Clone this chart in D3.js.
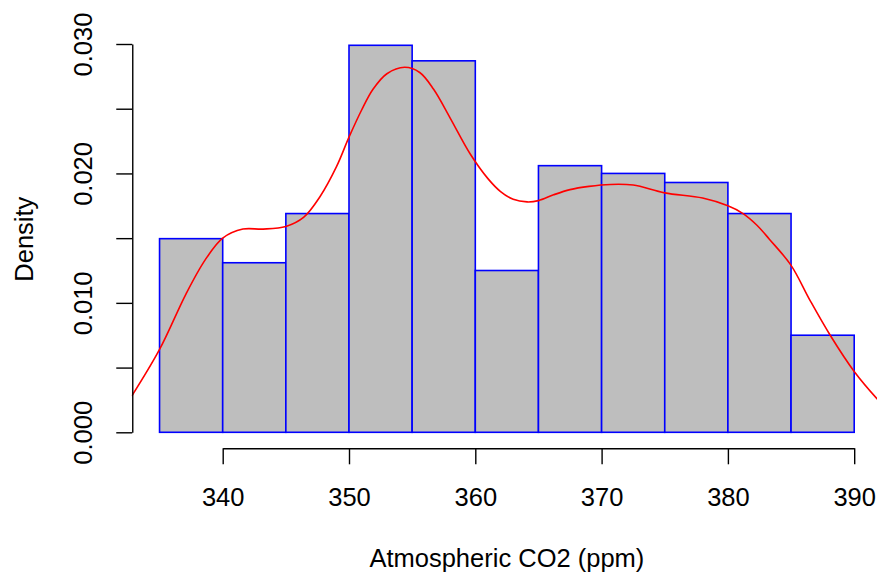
<!DOCTYPE html>
<html>
<head>
<meta charset="utf-8">
<script src="https://cdn.jsdelivr.net/npm/d3@7"></script>
<style>
  html, body { margin: 0; padding: 0; background: #ffffff; }
  svg { display: block; }
  text { font-family: "Liberation Sans", Arial, Helvetica, sans-serif; }
</style>
</head>
<body>
<svg id="chart" width="877" height="574"></svg>
<script>
// ---- data ----
const binStarts = [335, 340, 345, 350, 355, 360, 365, 370, 375, 380, 385];
const binWidth = 5;
const densities = [0.01496, 0.0131, 0.0169, 0.0299, 0.0287, 0.0125, 0.0206, 0.0200, 0.0193, 0.0169, 0.0075];

const kdeX = [332.8, 335.0, 337.1, 338.6, 340.0, 341.6, 343.2, 345.0, 346.4, 347.7, 349.0, 350.0, 351.0, 351.9, 353.0, 354.4, 355.6, 356.7, 358.0, 359.6, 361.0, 362.0, 363.0, 364.1, 365.0, 366.2, 367.5, 369.0, 370.7, 372.5, 375.0, 378.0, 380.0, 381.2, 382.3, 383.3, 385.0, 386.5, 388.1, 390.0, 391.8, 392.2];
const kdeY = [0.0028, 0.0064, 0.0107, 0.0133, 0.0150, 0.0157, 0.0157, 0.0159, 0.0166, 0.0182, 0.0205, 0.0228, 0.0249, 0.0265, 0.0277, 0.0282, 0.0278, 0.0265, 0.0243, 0.0215, 0.0196, 0.0186, 0.0180, 0.0178, 0.0179, 0.01835, 0.01875, 0.0190, 0.01915, 0.0191, 0.0185, 0.0181, 0.0175, 0.0169, 0.0160, 0.0149, 0.0129, 0.0102, 0.0075, 0.0047, 0.0026, 0.0022];

const xTicks = [340, 350, 360, 370, 380, 390];
const yTicks = [0, 0.005, 0.010, 0.015, 0.020, 0.025, 0.030];
const yLabelTicks = [0, 0.010, 0.020, 0.030];

const xTitle = "Atmospheric CO2 (ppm)";
const yTitle = "Density";

// ---- layout ----
const svg = d3.select("#chart");
const fontSize = 25.5;

const x = d3.scaleLinear().domain([340, 390]).range([222.7, 854.2]);
const y = d3.scaleLinear().domain([0, 0.03]).range([432.3, 44]);

const plotLeft = x(332.8), plotRight = x(392.2), plotTop = 30, plotBottom = 448.3;

svg.append("clipPath").attr("id", "plotclip")
  .append("rect")
  .attr("x", plotLeft).attr("y", plotTop)
  .attr("width", plotRight - plotLeft).attr("height", plotBottom - plotTop);

const plot = svg.append("g").attr("clip-path", "url(#plotclip)");

// histogram bars
plot.selectAll("rect.bar")
  .data(binStarts.map((b, i) => ({ x0: b, x1: b + binWidth, d: densities[i] })))
  .join("rect")
  .attr("class", "bar")
  .attr("x", d => x(d.x0))
  .attr("width", d => x(d.x1) - x(d.x0))
  .attr("y", d => y(d.d))
  .attr("height", d => y(0) - y(d.d))
  .attr("fill", "#bebebe")
  .attr("stroke", "#0000ff")
  .attr("stroke-width", 1.6);

// density curve
const line = d3.line()
  .x(d => x(d[0]))
  .y(d => y(d[1]))
  .curve(d3.curveCatmullRom.alpha(0.5));

plot.append("path")
  .datum(kdeX.map((v, i) => [v, kdeY[i]]))
  .attr("d", line)
  .attr("fill", "none")
  .attr("stroke", "#ff0000")
  .attr("stroke-width", 1.6);

// x axis
const xAxis = svg.append("g")
  .attr("transform", `translate(0,${plotBottom})`)
  .call(d3.axisBottom(x).tickValues(xTicks).tickSize(16).tickSizeOuter(0).tickFormat(d3.format("d")));
xAxis.select(".domain").attr("stroke", "#000").attr("stroke-width", 1.4);
xAxis.selectAll(".tick line").attr("stroke", "#000").attr("stroke-width", 1.4);
xAxis.selectAll(".tick text")
  .attr("y", 57.7).attr("dy", null)
  .attr("fill", "#000")
  .style("font-size", fontSize + "px")
  .style("font-family", "'Liberation Sans', Arial, Helvetica, sans-serif");

// y axis
const yAxis = svg.append("g")
  .attr("transform", `translate(${plotLeft + 0.5},0)`)
  .call(d3.axisLeft(y).tickValues(yTicks).tickSize(16).tickSizeOuter(0)
    .tickFormat(d => yLabelTicks.some(t => Math.abs(t - d) < 1e-9) ? d3.format(".3f")(d) : ""));
yAxis.select(".domain").attr("stroke", "#000").attr("stroke-width", 1.4);
yAxis.selectAll(".tick line").attr("stroke", "#000").attr("stroke-width", 1.4);
yAxis.selectAll(".tick text")
  .attr("x", null).attr("dy", null)
  .attr("transform", `translate(${92 - (plotLeft + 0.5)},0) rotate(-90)`)
  .attr("text-anchor", "middle")
  .attr("fill", "#000")
  .style("font-size", fontSize + "px")
  .style("font-family", "'Liberation Sans', Arial, Helvetica, sans-serif");

// titles
svg.append("text")
  .attr("x", (plotLeft + plotRight) / 2)
  .attr("y", 567)
  .attr("text-anchor", "middle")
  .style("font-size", fontSize + "px")
  .text(xTitle);

svg.append("text")
  .attr("transform", `translate(32.5,${(plotTop + plotBottom) / 2}) rotate(-90)`)
  .attr("text-anchor", "middle")
  .style("font-size", fontSize + "px")
  .text(yTitle);
</script>
</body>
</html>
